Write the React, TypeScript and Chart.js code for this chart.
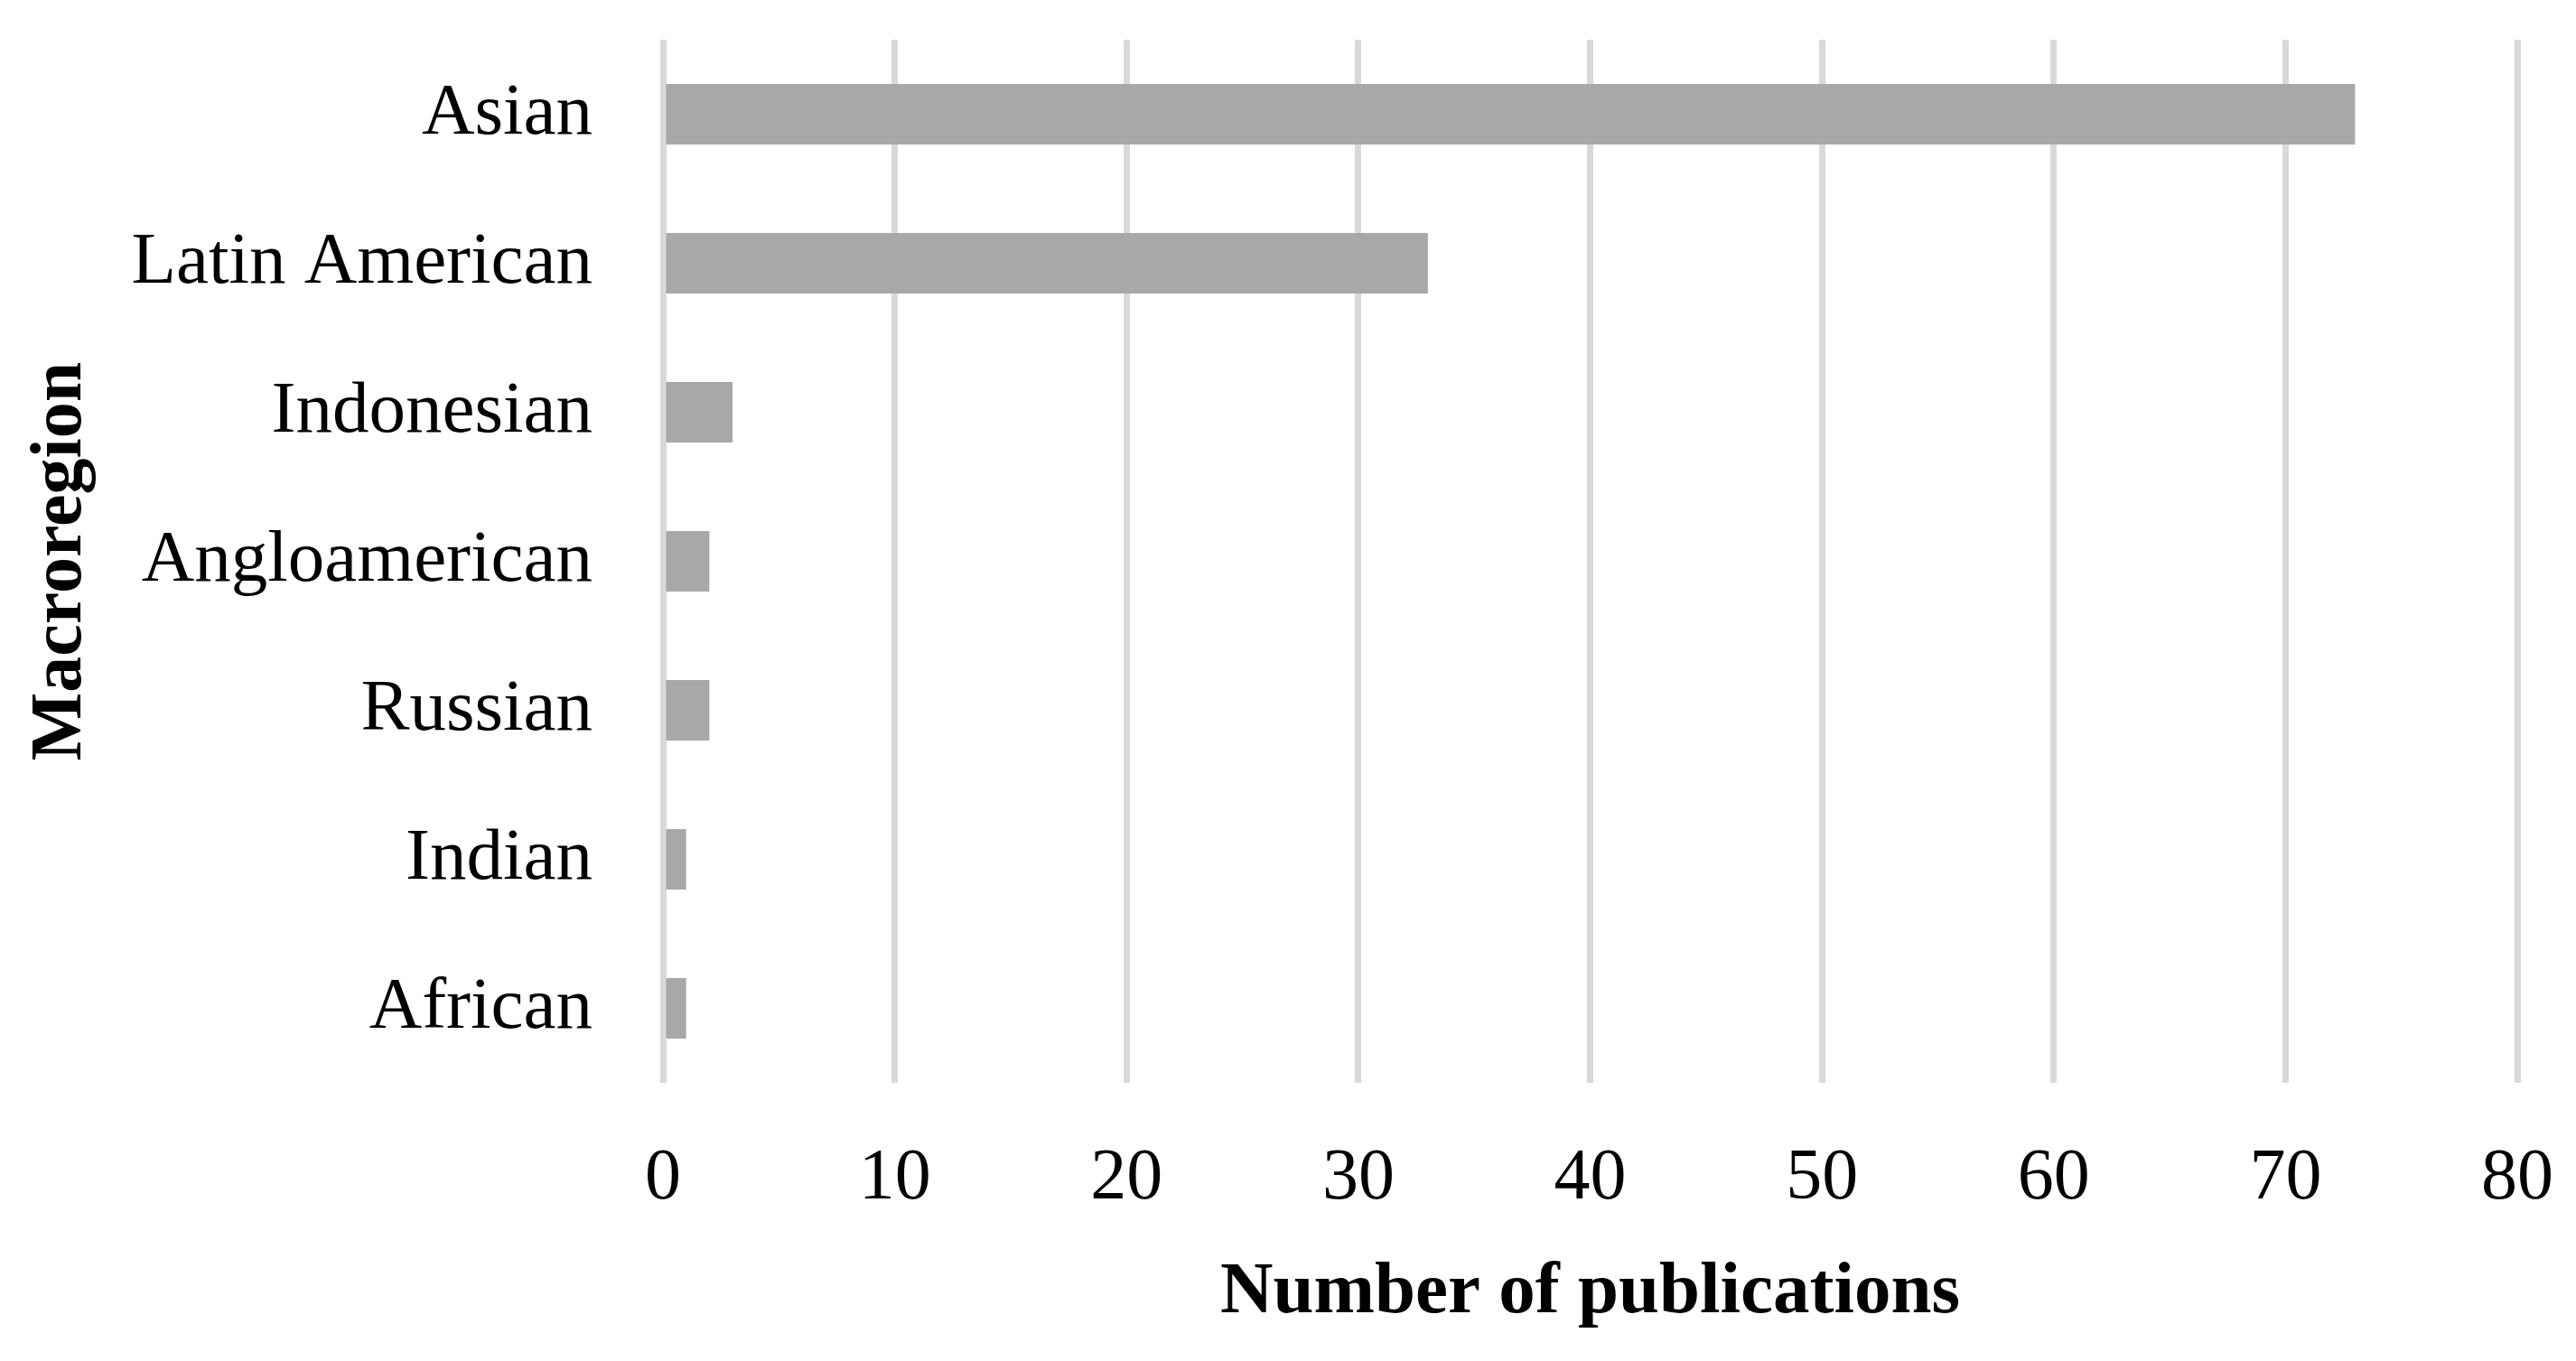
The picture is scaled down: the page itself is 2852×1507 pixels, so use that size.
import React, { useEffect, useRef } from "react";
import { Chart, registerables } from "chart.js";

Chart.register(...registerables);

const categories = ["Asian", "Latin American", "Indonesian", "Angloamerican", "Russian", "Indian", "African"];
const publications = [73, 33, 3, 2, 2, 1, 1];
const xTickMin = 0;
const xTickMax = 80;
const xTickStep = 10;
const xTitle = "Number of publications";
const yTitle = "Macroregion";

const W = 2852;
const H = 1507;
const FONT = "'Liberation Serif', 'Times New Roman', serif";

export default function App() {
  const ref = useRef<HTMLCanvasElement | null>(null);

  useEffect(() => {
    if (!ref.current) return;
    const chart = new Chart(ref.current, {
      type: "bar",
      data: {
        labels: categories,
        datasets: [
          {
            data: publications,
            backgroundColor: "#A8A8A8",
            borderWidth: 0,
            barPercentage: 0.406,
            categoryPercentage: 1,
          },
        ],
      },
      options: {
        indexAxis: "y",
        responsive: false,
        animation: false,
        devicePixelRatio: 1,
        layout: { padding: { top: 44, right: 65, left: 0, bottom: 0 } },
        plugins: {
          legend: { display: false },
          tooltip: { enabled: false },
          title: { display: false },
        },
        scales: {
          x: {
            type: "linear",
            min: xTickMin,
            max: xTickMax,
            ticks: {
              stepSize: xTickStep,
              padding: 59,
              color: "#000",
              font: { family: FONT, size: 80 },
            },
            grid: { color: "#D9D9D9", lineWidth: 7, drawTicks: false },
            border: { display: false },
            title: {
              display: true,
              text: xTitle,
              color: "#000",
              font: { family: FONT, size: 81, weight: "bold" },
              padding: { top: 0, bottom: 26 },
            },
            afterFit: (s: any) => {
              s.height = 308;
              s.paddingLeft = 0;
              s.paddingRight = 0;
            },
          },
          y: {
            ticks: {
              padding: 78,
              color: "#000",
              font: { family: FONT, size: 81 },
            },
            grid: { display: false, drawTicks: false },
            border: { display: false },
            title: {
              display: true,
              text: yTitle,
              color: "#000",
              font: { family: FONT, size: 80, weight: "bold" },
              padding: { top: 20, bottom: 0 },
            },
            afterFit: (s: any) => {
              s.width = 734;
              s.paddingTop = 0;
              s.paddingBottom = 0;
            },
          },
        },
      },
    });
    return () => chart.destroy();
  }, []);

  return (
    <div style={{ position: "fixed", left: 0, top: 0, width: W, height: H, background: "#fff" }}>
      <canvas ref={ref} width={W} height={H} style={{ display: "block", width: W, height: H }} />
    </div>
  );
}
